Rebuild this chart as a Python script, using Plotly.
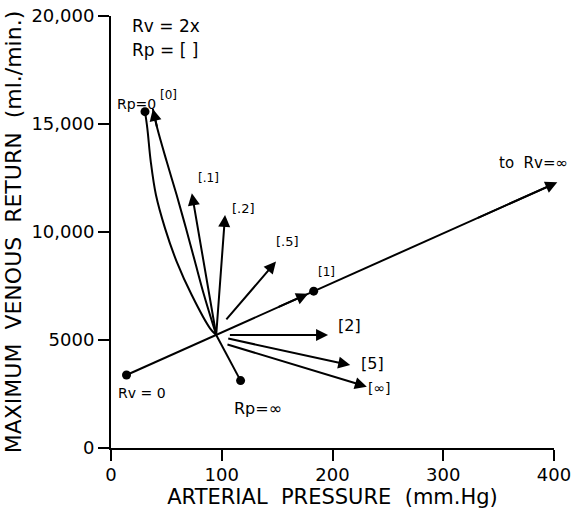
import plotly.graph_objects as go

# ---- data (mm Hg, ml/min) ----
center = (95, 5230)

# Rv line: from Rv = 0 through the centre towards Rv = infinity
rv_line_x = [14, 403]
rv_line_y = [3380, 12300]

# Rp = 0 curve (ends in a dot)
rp0_curve_x = [95, 89.4, 72.9, 59.3, 48.8, 40.6, 35.9, 32.8, 30.7]
rp0_curve_y = [5230, 5540, 7080, 8630, 10170, 11710, 13260, 14800, 15570]

# [0] curve (ends in an arrow)
rp0b_curve_x = [95, 84.0, 75.8, 67.7, 59.3, 50.3, 41.8, 37.8]
rp0b_curve_y = [5230, 7080, 8630, 10170, 11710, 13260, 14800, 15700]

# Rp = infinity line
rpinf_x = [95, 117]
rpinf_y = [5230, 3120]

# straight arrows: label, tail (x, y), tip (x, y)
arrow_labels = ["[.1]", "[.2]", "[.5]", "[2]", "[5]", "[∞]"]
arrow_tail_x = [95, 95, 103, 106, 104.5, 103.8]
arrow_tail_y = [5230, 5230, 5890, 5230, 5080, 4815]
arrow_tip_x = [73, 103, 149, 196, 216, 231]
arrow_tip_y = [11790, 10790, 8630, 5230, 3840, 2840]

# dots
dot_x = [14, 30.7, 117, 183]
dot_y = [3380, 15570, 3120, 7260]

# text labels
label_text = ["Rp=0", "[0]", "[.1]", "[.2]", "[.5]", "[1]", "[2]", "[5]", "[∞]",
              "to  Rv=∞", "Rv = 0", "Rp=∞"]
label_x = [22.6, 51.5, 87.9, 119.2, 159.8, 195, 214.9, 235.7, 242, 381.9, 28, 132.7]
label_y = [15926, 16343, 12486, 11111, 9583, 8148, 5694, 3935, 2778, 13194, 2546, 1852]
label_size = [14, 12, 12, 13, 13, 12, 16, 16, 14, 15, 14, 16]

header_text = ["Rv = 2x", "Rp = [ ]"]
header_x = [17, 17]
header_y = [19540, 18430]

x_ticks = [0, 100, 200, 300, 400]
y_ticks = [0, 5000, 10000, 15000, 20000]
y_tick_text = ["0", "5000", "10,000", "15,000", "20,000"]

FONT = "DejaVu Sans, Liberation Sans, sans-serif"
BLACK = "black"

fig = go.Figure()

fig.add_trace(go.Scatter(x=rv_line_x, y=rv_line_y, mode="lines",
                         line=dict(color=BLACK, width=2), showlegend=False))
fig.add_trace(go.Scatter(x=rp0_curve_x, y=rp0_curve_y, mode="lines",
                         line=dict(color=BLACK, width=2, shape="spline"), showlegend=False))
fig.add_trace(go.Scatter(x=rp0b_curve_x, y=rp0b_curve_y, mode="lines",
                         line=dict(color=BLACK, width=2, shape="spline"), showlegend=False))
fig.add_trace(go.Scatter(x=rpinf_x, y=rpinf_y, mode="lines",
                         line=dict(color=BLACK, width=2), showlegend=False))
fig.add_trace(go.Scatter(x=dot_x, y=dot_y, mode="markers",
                         marker=dict(color=BLACK, size=9), showlegend=False))

annotations = []

def arrow(tx, ty, ax, ay):
    return dict(x=tx, y=ty, ax=ax, ay=ay, xref="x", yref="y", axref="x", ayref="y",
                text="", showarrow=True, arrowhead=2, arrowsize=1.2, arrowwidth=2,
                arrowcolor=BLACK)

def on_rv_line(x):
    return rv_line_y[0] + (x - rv_line_x[0]) * (rv_line_y[1] - rv_line_y[0]) / (rv_line_x[1] - rv_line_x[0])

for tx, ty, ax, ay in zip(arrow_tip_x, arrow_tip_y, arrow_tail_x, arrow_tail_y):
    annotations.append(arrow(tx, ty, ax, ay))

# arrowheads on the long Rv line, the [1] point and the [0] curve
annotations.append(arrow(rv_line_x[1], rv_line_y[1], 330, on_rv_line(330)))
annotations.append(arrow(178, on_rv_line(178), 150, on_rv_line(150)))
annotations.append(arrow(rp0b_curve_x[-1], rp0b_curve_y[-1], rp0b_curve_x[-2], rp0b_curve_y[-2]))

for t, x, y, s in zip(label_text, label_x, label_y, label_size):
    annotations.append(dict(x=x, y=y, xref="x", yref="y", text=t, showarrow=False,
                            font=dict(family=FONT, size=s, color=BLACK)))
for t, x, y in zip(header_text, header_x, header_y):
    annotations.append(dict(x=x, y=y, xref="x", yref="y", text=t, showarrow=False,
                            xanchor="left", font=dict(family=FONT, size=17, color=BLACK)))

fig.update_layout(
    width=574, height=510,
    margin=dict(l=111, r=20, t=16, b=62),
    paper_bgcolor="white", plot_bgcolor="white",
    font=dict(family=FONT, color=BLACK),
    annotations=annotations,
    xaxis=dict(range=[0, 400], tickvals=x_ticks, showgrid=False, zeroline=False,
               automargin=False, ticklabeloverflow="allow",
               showline=True, linecolor=BLACK, linewidth=2, ticks="outside",
               ticklen=11, tickwidth=2, tickcolor=BLACK, ticklabelstandoff=-2,
               tickfont=dict(family=FONT, size=18, color=BLACK),
               title=dict(text="ARTERIAL  PRESSURE  (mm.Hg)", standoff=0,
                          font=dict(family=FONT, size=21, color=BLACK))),
    yaxis=dict(range=[0, 20000], tickvals=y_ticks, ticktext=y_tick_text,
               showgrid=False, zeroline=False, automargin=False,
               ticklabeloverflow="allow",
               showline=True, linecolor=BLACK, linewidth=2, ticks="outside",
               ticklen=11, tickwidth=2, tickcolor=BLACK,
               tickfont=dict(family=FONT, size=18, color=BLACK),
               title=dict(text="MAXIMUM  VENOUS  RETURN  (ml./min.)", standoff=4,
                          font=dict(family=FONT, size=22, color=BLACK))),
)

# remove the default 8 px page margin so the 574x510 figure fills the window
fig.write_html("out.html",
               config={"displayModeBar": False},
               post_script="document.body.style.margin='0';document.body.style.overflow='hidden';")
